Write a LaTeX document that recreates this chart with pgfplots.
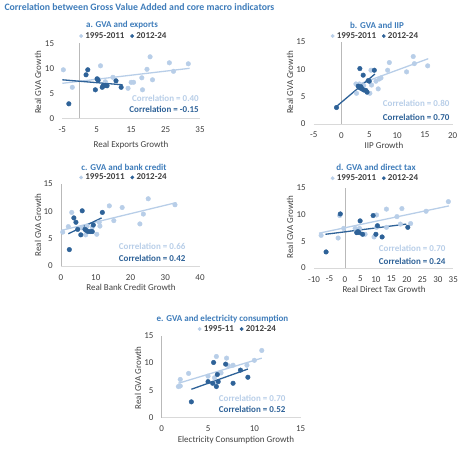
\documentclass[border=0pt]{standalone}
\usepackage{fontspec}
\setmainfont{Carlito}
\usepackage{pgfplots}
\pgfplotsset{compat=1.18}
\definecolor{lightc}{RGB}{184,206,232}
\definecolor{darkc}{RGB}{46,98,152}
\definecolor{titlec}{RGB}{62,124,186}
\definecolor{tickc}{RGB}{64,64,64}
\pgfplotsset{
  panel/.style={
    scale only axis, anchor=south west,
    axis lines=left, axis line style={draw=none},
    major tick length=0pt,
    ymin=0, ymax=15, ytick={0,5,10,15},
    tick label style={font=\fontsize{9}{10}\selectfont, text=tickc, inner sep=1pt},
    /pgf/number format/assume math mode=true,
    yticklabel style={xshift=-7pt},
    xticklabel style={yshift=-7pt},
    clip=false,
    legend columns=2,
    legend style={draw=none, fill=none, anchor=center,
      font=\fontsize{9}{10}\selectfont\bfseries, text=tickc,
      /tikz/every odd column/.append style={column sep=1.5pt},
      /tikz/every even column/.append style={column sep=5pt},
      inner sep=0pt, nodes={inner sep=1pt}},
    legend image code/.code={\draw[#1, mark size=1.7pt] plot coordinates {(0pt,0pt)};},
  },
  lpts/.style={only marks, mark=*, mark size=2.3pt, color=lightc},
  dpts/.style={only marks, mark=*, mark size=2.3pt, color=darkc},
  lline/.style={lightc, line width=1.3pt, forget plot},
  dline/.style={darkc, line width=1.3pt, forget plot},
}
\newcommand{\zeroline}[2]{\draw[gray!30, line width=0.7pt] (axis cs:#1,0) -- (axis cs:#2,0);
  \draw[gray!55, line width=0.7pt] (axis cs:0,0) -- (axis cs:0,15);}
\begin{document}
\begin{tikzpicture}
\useasboundingbox (0,0) rectangle (465pt,-449pt);
\node[anchor=west, text=titlec, font=\fontsize{9.8}{11}\selectfont\bfseries] at (1pt,-7pt) {Correlation between Gross Value Added and core macro indicators};

% ---- a
\begin{axis}[panel, at={(62.3pt,-118.3pt)}, width=137.7pt, height=75pt,
  xmin=-5, xmax=35, xtick={-5,5,15,25,35},
  legend style={at={(0.444,1.097)}}]
\zeroline{-5}{35}
\addplot[lpts] coordinates {(-4.7,9.7) (-2.1,6.2) (6.1,10.5) (9.7,8.2) (14.1,6.0) (15.0,7.2) (15.7,7.2) (18.1,8.1) (18.3,5.7) (19.6,9.8) (20.5,12.3) (21.2,7.7) (26.1,11.1) (27.3,9.4) (31.6,10.9) (7.5,7.3) (5.5,7.8)};
\addlegendentry{1995-2011}
\addplot[lline] coordinates {(-5,7.0) (32,10.0)};
\addplot[dpts] coordinates {(-3.1,2.9) (1.9,8.7) (2.4,9.7) (5.1,7.9) (4.6,5.7) (6.6,6.2) (7.0,6.6) (8.0,6.5) (10.6,7.5) (12.1,6.2) (6.8,6.4) (7.6,6.6) (5.4,7.6)};
\addlegendentry{2012-24}
\addplot[dline] coordinates {(-5,7.7) (12.5,6.7)};
\end{axis}

% ---- b
\begin{axis}[panel, at={(313.7pt,-124pt)}, width=139pt, height=82.3pt,
  xmin=-5, xmax=20, xtick={-5,0,5,10,15,20},
  legend style={at={(0.441,1.069)}}]
\zeroline{-5}{20}
\addplot[lpts] coordinates {(2.6,7.3) (3.2,7.3) (2.7,5.6) (5.3,9.8) (5.1,5.6) (5.4,7.1) (6.2,7.8) (6.6,6.4) (6.8,8.2) (7.1,8.4) (8.3,9.8) (8.6,11.2) (11.7,9.5) (12.9,12.3) (13.1,11.0) (15.5,10.6) (4.0,7.0)};
\addlegendentry{1995-2011}
\addplot[lline] coordinates {(2.7,7.1) (15.6,11.9)};
\addplot[dpts] coordinates {(-0.9,3.0) (3.3,10.1) (3.9,8.9) (4.8,7.9) (5.9,9.8) (3.0,6.9) (3.3,6.6) (3.7,6.4) (4.0,6.2) (4.4,6.1) (4.6,5.8) (3.5,6.8) (5.0,7.8)};
\addlegendentry{2012-24}
\addplot[dline] coordinates {(-0.9,3.2) (6.0,9.1)};
\end{axis}

% ---- c
\begin{axis}[panel, at={(61pt,-266pt)}, width=139pt, height=82pt,
  xmin=0, xmax=40, xtick={0,10,20,30,40},
  legend style={at={(0.45,1.08)}}]
\zeroline{0}{40}
\addplot[lpts] coordinates {(0.5,6.2) (2.1,7.2) (3.1,9.8) (7.1,5.7) (7.5,7.3) (10.3,5.8) (11.2,7.3) (11.0,8.0) (13.9,11.0) (15.2,8.3) (17.6,10.7) (22.7,7.7) (23.7,9.5) (25.1,12.3) (32.8,11.2) (6.0,7.0) (9.0,7.1)};
\addlegendentry{1995-2011}
\addplot[lline] coordinates {(0,6.5) (33.2,11.6)};
\addplot[dpts] coordinates {(2.4,3.0) (3.7,8.8) (4.3,8.0) (4.8,6.7) (6.1,10.1) (5.7,5.7) (6.9,6.7) (7.8,6.3) (8.5,6.3) (9.0,6.3) (9.3,7.5) (11.9,9.8) (7.3,6.5)};
\addlegendentry{2012-24}
\addplot[dline] coordinates {(2.1,5.9) (11.7,8.8)};
\end{axis}

% ---- d
\begin{axis}[panel, at={(314pt,-268pt)}, width=139.3pt, height=80.3pt,
  xmin=-10, xmax=35, xtick={-10,-5,0,5,10,15,20,25,30,35},
  legend style={at={(0.438,1.118)}}]
\zeroline{-10}{35}
\addplot[lpts] coordinates {(-7.7,6.1) (-2.2,5.6) (-1.7,9.8) (-0.4,7.4) (3.3,7.4) (4.7,7.4) (6.5,6.3) (9.4,5.8) (10.2,9.9) (10.2,7.6) (13.4,11.0) (13.4,7.6) (16.8,9.6) (18.4,11.1) (17.9,8.2) (21.2,8.3) (26.2,10.6) (33.4,12.4)};
\addlegendentry{1995-2011}
\addplot[lline] coordinates {(-8.4,6.5) (33.6,11.6)};
\addplot[dpts] coordinates {(-6.1,3.0) (-1.5,10.1) (3.8,6.6) (4.9,8.8) (4.6,6.6) (5.7,6.3) (9.1,9.8) (10.0,6.3) (10.5,7.9) (12.0,5.8) (20.3,7.6) (4.2,6.8)};
\addlegendentry{2012-24}
\addplot[dline] coordinates {(-6.3,6.3) (19.8,8.2)};
\end{axis}

% ---- e
\begin{axis}[panel, at={(161.7pt,-417.7pt)}, width=139pt, height=82pt,
  xmin=0, xmax=15, xtick={0,5,10,15},
  legend style={at={(0.545,1.082)}}]
\zeroline{0}{15}
\addplot[lpts] coordinates {(1.8,5.7) (2.0,7.0) (2.0,5.8) (2.9,8.1) (5.0,7.6) (5.9,11.2) (5.7,7.3) (6.4,8.2) (7.0,10.9) (7.2,9.5) (7.7,9.6) (9.2,9.6) (10.0,10.5) (10.8,12.3) (5.8,6.2)};
\addlegendentry{1995-11}
\addplot[lline] coordinates {(1.8,6.3) (10.8,10.9)};
\addplot[dpts] coordinates {(3.2,2.9) (5.0,6.6) (5.5,6.3) (5.6,10.1) (5.9,5.7) (6.0,7.9) (6.1,6.6) (6.9,9.8) (7.7,6.3) (8.5,8.7) (9.3,7.4)};
\addlegendentry{2012-24}
\addplot[dline] coordinates {(3.2,5.2) (9.3,8.9)};
\end{axis}

% ---- texts
\begin{scope}[every node/.style={font=\fontsize{9}{10}\selectfont, inner sep=1pt}]
% panel titles
\node[text=titlec, font=\fontsize{9}{10}\selectfont\bfseries] at (122pt,-25pt) {a. GVA and exports};
\node[text=titlec, font=\fontsize{9}{10}\selectfont\bfseries] at (377pt,-25pt) {b. GVA and IIP};
\node[text=titlec, font=\fontsize{9}{10}\selectfont\bfseries] at (124pt,-167.5pt) {c. GVA and bank credit};
\node[text=titlec, font=\fontsize{9}{10}\selectfont\bfseries] at (376pt,-167pt) {d. GVA and direct tax};
\node[text=titlec, font=\fontsize{9}{10}\selectfont\bfseries] at (222.5pt,-319.3pt) {e. GVA and electricity consumption};
% x labels
\node[text=tickc] at (131pt,-145pt) {Real Exports Growth};
\node[text=tickc] at (384pt,-145pt) {IIP Growth};
\node[text=tickc] at (131pt,-287pt) {Real Bank Credit Growth};
\node[text=tickc] at (384pt,-289pt) {Real Direct Tax Growth};
\node[text=tickc] at (236pt,-440pt) {Electricity Consumption Growth};
% y labels
\node[text=tickc, rotate=90] at (38pt,-82.5pt) {Real GVA Growth};
\node[text=tickc, rotate=90] at (290pt,-82.5pt) {Real GVA Growth};
\node[text=tickc, rotate=90] at (38pt,-225pt) {Real GVA Growth};
\node[text=tickc, rotate=90] at (290pt,-227pt) {Real GVA Growth};
\node[text=tickc, rotate=90] at (138pt,-378pt) {Real GVA Growth};
% correlations
\node[anchor=east, text=lightc, font=\fontsize{9}{10}\selectfont\bfseries] at (200pt,-98pt) {Correlation = 0.40};
\node[anchor=east, text=darkc, font=\fontsize{9}{10}\selectfont\bfseries] at (200pt,-109pt) {Correlation = -0.15};
\node[anchor=east, text=lightc, font=\fontsize{9}{10}\selectfont\bfseries] at (450.7pt,-103pt) {Correlation = 0.80};
\node[anchor=east, text=darkc, font=\fontsize{9}{10}\selectfont\bfseries] at (450.7pt,-117pt) {Correlation = 0.70};
\node[anchor=east, text=lightc, font=\fontsize{9}{10}\selectfont\bfseries] at (186.7pt,-246pt) {Correlation = 0.66};
\node[anchor=east, text=darkc, font=\fontsize{9}{10}\selectfont\bfseries] at (186.7pt,-258.3pt) {Correlation = 0.42};
\node[anchor=east, text=lightc, font=\fontsize{9}{10}\selectfont\bfseries] at (446.7pt,-248.3pt) {Correlation = 0.70};
\node[anchor=east, text=darkc, font=\fontsize{9}{10}\selectfont\bfseries] at (446.7pt,-261pt) {Correlation = 0.24};
\node[anchor=east, text=lightc, font=\fontsize{9}{10}\selectfont\bfseries] at (286.7pt,-398.3pt) {Correlation = 0.70};
\node[anchor=east, text=darkc, font=\fontsize{9}{10}\selectfont\bfseries] at (286.7pt,-409pt) {Correlation = 0.52};
\end{scope}
\end{tikzpicture}
\end{document}
